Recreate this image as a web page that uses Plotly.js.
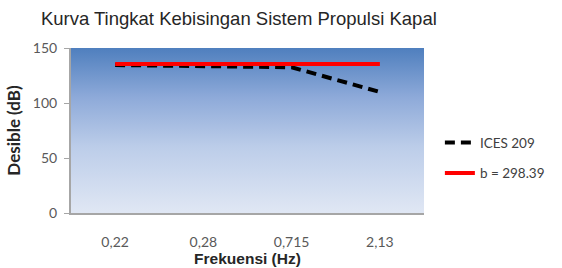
<!DOCTYPE html>
<html>
<head>
<meta charset="utf-8">
<script src="https://cdn.plot.ly/plotly-3.0.1.min.js"></script>
<style>html,body{margin:0;padding:0;background:#fff;}#chart{width:562px;height:268px;}</style>
</head>
<body>
<div id="chart"></div>
<script>
var categories = ['0,22', '0,28', '0,715', '2,13'];
var icesValues = [134.5, 133.5, 132.5, 110];
var bValues = [135.5, 135.5, 135.5, 135.5];
var yTicks = [0, 50, 100, 150];

var gradSvg = '<svg xmlns="http://www.w3.org/2000/svg" width="100" height="100" preserveAspectRatio="none">' +
  '<defs><linearGradient id="g" x1="0" y1="0" x2="0" y2="1">' +
  '<stop offset="0" stop-color="#4f7fbe"/>' +
  '<stop offset="0.3" stop-color="#8eaad9"/>' +
  '<stop offset="0.6" stop-color="#bccde9"/>' +
  '<stop offset="1" stop-color="#e0e7f4"/>' +
  '</linearGradient></defs><rect width="100" height="100" fill="url(#g)"/></svg>';
var gradUri = 'data:image/svg+xml;charset=utf-8,' + encodeURIComponent(gradSvg);

var traces = [
  {
    x: categories, y: icesValues, type: 'scatter', mode: 'lines', name: 'ICES 209',
    legendgroup: 'a',
    line: {color: '#000000', width: 4, dash: '10px,6px'}
  },
  {
    x: categories, y: bValues, type: 'scatter', mode: 'lines', name: 'b = 298.39',
    legendgroup: 'b',
    line: {color: '#ff0000', width: 4}
  }
];

var layout = {
  width: 562, height: 268,
  margin: {l: 71, r: 136, t: 48, b: 55},
  paper_bgcolor: '#ffffff',
  plot_bgcolor: 'rgba(0,0,0,0)',
  title: {
    text: 'Kurva Tingkat Kebisingan Sistem Propulsi Kapal',
    font: {family: 'Liberation Sans, Arial, sans-serif', size: 18.5, color: '#262626'},
    x: 0.425, xref: 'container', xanchor: 'center', y: 0.93, yref: 'container', yanchor: 'middle'
  },
  images: [{
    source: gradUri, xref: 'paper', yref: 'paper', x: 0, y: 1, sizex: 1, sizey: 1,
    sizing: 'stretch', layer: 'below', xanchor: 'left', yanchor: 'top'
  }],
  xaxis: {
    type: 'category', range: [-0.5, 3.5],
    showgrid: false, zeroline: false,
    showline: true, linecolor: '#a6a6a6', linewidth: 2,
    ticks: '', ticklabelstandoff: 15,
    tickfont: {family: 'Lato, Open Sans, sans-serif', size: 14, color: '#595959'},
    title: {text: 'Frekuensi (Hz)', font: {family: 'Liberation Sans, Arial, sans-serif', size: 15.5, color: '#262626', weight: 'bold'}, standoff: 2}
  },
  yaxis: {
    range: [0, 150], tickvals: yTicks, ticktext: yTicks.map(String),
    showgrid: false, zeroline: false,
    showline: true, linecolor: '#a6a6a6', linewidth: 2,
    ticks: 'outside', ticklen: 5, tickcolor: '#a6a6a6', tickwidth: 1,
    ticklabelstandoff: 4,
    tickfont: {family: 'Lato, Open Sans, sans-serif', size: 14, color: '#595959'},
    title: {text: 'Desible (dB)', font: {family: 'Lato, Liberation Sans, sans-serif', size: 17, color: '#262626', weight: 'bold'}, standoff: 8}
  },
  showlegend: true,
  legend: {
    x: 1.045, xanchor: 'left', y: 0.52, yanchor: 'top',
    traceorder: 'grouped', tracegroupgap: 10,
    bgcolor: 'rgba(0,0,0,0)',
    font: {family: 'Lato, Open Sans, sans-serif', size: 13.5, color: '#404040'}
  }
};

Plotly.newPlot('chart', traces, layout, {displayModeBar: false, staticPlot: true});
</script>
</body>
</html>
